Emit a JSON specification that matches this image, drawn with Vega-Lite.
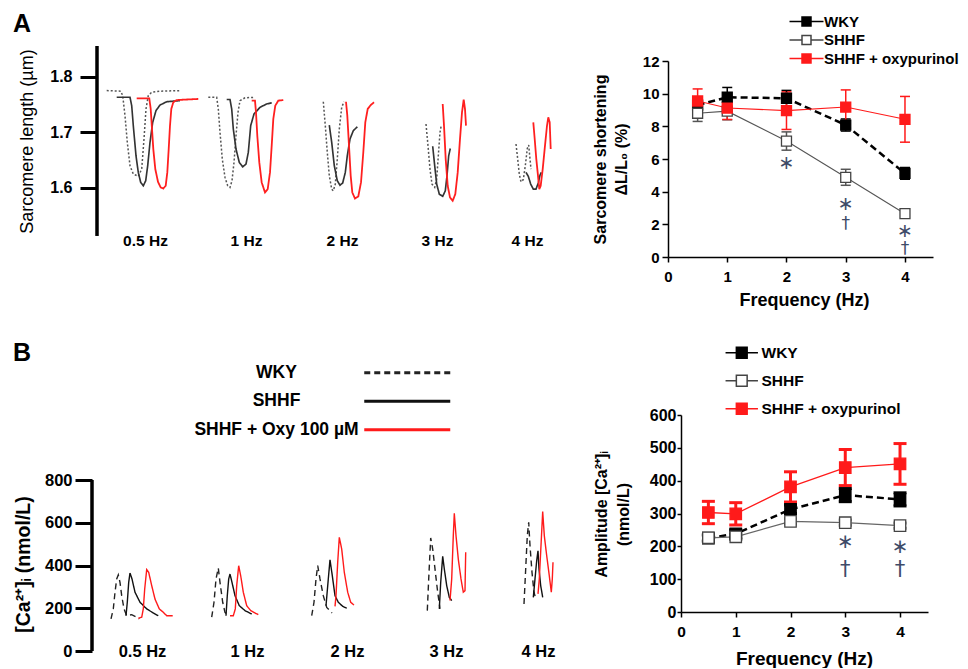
{
"$schema": "https://vega.github.io/schema/vega-lite/v6.json",
"background": "white",
"padding": {"left": 13, "top": 12, "right": 0, "bottom": 0},
"bounds": "flush",
"spacing": 354,
"datasets": {
"sl": [
{"f":"0.5","s":"WKY","t":14.7,"v":1.775},{"f":"0.5","s":"WKY","t":28.7,"v":1.774},{"f":"0.5","s":"WKY","t":30.7,"v":1.766},{"f":"0.5","s":"WKY","t":33,"v":1.730},{"f":"0.5","s":"WKY","t":35.3,"v":1.682},{"f":"0.5","s":"WKY","t":38,"v":1.640},{"f":"0.5","s":"WKY","t":41.3,"v":1.625},{"f":"0.5","s":"WKY","t":46.3,"v":1.621},{"f":"0.5","s":"WKY","t":49.7,"v":1.634},{"f":"0.5","s":"WKY","t":52,"v":1.688},{"f":"0.5","s":"WKY","t":54,"v":1.742},{"f":"0.5","s":"WKY","t":56.3,"v":1.766},{"f":"0.5","s":"WKY","t":59.7,"v":1.772},{"f":"0.5","s":"WKY","t":68,"v":1.774},{"f":"0.5","s":"WKY","t":88,"v":1.775},
{"f":"0.5","s":"SHHF","t":24.7,"v":1.763},{"f":"0.5","s":"SHHF","t":38,"v":1.763},{"f":"0.5","s":"SHHF","t":39.7,"v":1.748},{"f":"0.5","s":"SHHF","t":41.3,"v":1.712},{"f":"0.5","s":"SHHF","t":44,"v":1.658},{"f":"0.5","s":"SHHF","t":46.3,"v":1.628},{"f":"0.5","s":"SHHF","t":48.7,"v":1.610},{"f":"0.5","s":"SHHF","t":51.3,"v":1.604},{"f":"0.5","s":"SHHF","t":53.7,"v":1.613},{"f":"0.5","s":"SHHF","t":55.7,"v":1.640},{"f":"0.5","s":"SHHF","t":58,"v":1.682},{"f":"0.5","s":"SHHF","t":60.7,"v":1.718},{"f":"0.5","s":"SHHF","t":64,"v":1.739},{"f":"0.5","s":"SHHF","t":68,"v":1.749},{"f":"0.5","s":"SHHF","t":74.7,"v":1.755},{"f":"0.5","s":"SHHF","t":88,"v":1.757},
{"f":"0.5","s":"SHHF + oxypurinol","t":44.7,"v":1.761},{"f":"0.5","s":"SHHF + oxypurinol","t":57.3,"v":1.761},{"f":"0.5","s":"SHHF + oxypurinol","t":58.7,"v":1.742},{"f":"0.5","s":"SHHF + oxypurinol","t":60,"v":1.706},{"f":"0.5","s":"SHHF + oxypurinol","t":61.3,"v":1.670},{"f":"0.5","s":"SHHF + oxypurinol","t":63.3,"v":1.634},{"f":"0.5","s":"SHHF + oxypurinol","t":66,"v":1.611},{"f":"0.5","s":"SHHF + oxypurinol","t":68.7,"v":1.601},{"f":"0.5","s":"SHHF + oxypurinol","t":71.3,"v":1.599},{"f":"0.5","s":"SHHF + oxypurinol","t":73.7,"v":1.604},{"f":"0.5","s":"SHHF + oxypurinol","t":75.3,"v":1.628},{"f":"0.5","s":"SHHF + oxypurinol","t":76.7,"v":1.670},{"f":"0.5","s":"SHHF + oxypurinol","t":78,"v":1.712},{"f":"0.5","s":"SHHF + oxypurinol","t":79.3,"v":1.742},{"f":"0.5","s":"SHHF + oxypurinol","t":81.3,"v":1.754},{"f":"0.5","s":"SHHF + oxypurinol","t":84.7,"v":1.758},{"f":"0.5","s":"SHHF + oxypurinol","t":94.7,"v":1.759},{"f":"0.5","s":"SHHF + oxypurinol","t":106.3,"v":1.760},
{"f":"1","s":"WKY","t":116.3,"v":1.763},{"f":"1","s":"WKY","t":124.7,"v":1.763},{"f":"1","s":"WKY","t":126.3,"v":1.742},{"f":"1","s":"WKY","t":128,"v":1.700},{"f":"1","s":"WKY","t":130.3,"v":1.652},{"f":"1","s":"WKY","t":133,"v":1.619},{"f":"1","s":"WKY","t":135.7,"v":1.604},{"f":"1","s":"WKY","t":138,"v":1.601},{"f":"1","s":"WKY","t":140,"v":1.613},{"f":"1","s":"WKY","t":142,"v":1.646},{"f":"1","s":"WKY","t":144,"v":1.694},{"f":"1","s":"WKY","t":146,"v":1.736},{"f":"1","s":"WKY","t":148,"v":1.757},{"f":"1","s":"WKY","t":153,"v":1.762},{"f":"1","s":"WKY","t":163,"v":1.763},
{"f":"1","s":"SHHF","t":134.7,"v":1.759},{"f":"1","s":"SHHF","t":138,"v":1.759},{"f":"1","s":"SHHF","t":139.7,"v":1.742},{"f":"1","s":"SHHF","t":141.3,"v":1.706},{"f":"1","s":"SHHF","t":144,"v":1.670},{"f":"1","s":"SHHF","t":147.3,"v":1.646},{"f":"1","s":"SHHF","t":150.7,"v":1.638},{"f":"1","s":"SHHF","t":154,"v":1.643},{"f":"1","s":"SHHF","t":156.3,"v":1.664},{"f":"1","s":"SHHF","t":158.7,"v":1.712},{"f":"1","s":"SHHF","t":162,"v":1.733},{"f":"1","s":"SHHF","t":168,"v":1.745},{"f":"1","s":"SHHF","t":174.7,"v":1.751},{"f":"1","s":"SHHF","t":179.7,"v":1.753},
{"f":"1","s":"SHHF + oxypurinol","t":159.7,"v":1.757},{"f":"1","s":"SHHF + oxypurinol","t":163,"v":1.757},{"f":"1","s":"SHHF + oxypurinol","t":164,"v":1.736},{"f":"1","s":"SHHF + oxypurinol","t":165.3,"v":1.694},{"f":"1","s":"SHHF + oxypurinol","t":167.3,"v":1.646},{"f":"1","s":"SHHF + oxypurinol","t":169.7,"v":1.610},{"f":"1","s":"SHHF + oxypurinol","t":173,"v":1.592},{"f":"1","s":"SHHF + oxypurinol","t":175.7,"v":1.598},{"f":"1","s":"SHHF + oxypurinol","t":178,"v":1.628},{"f":"1","s":"SHHF + oxypurinol","t":179.7,"v":1.676},{"f":"1","s":"SHHF + oxypurinol","t":181.3,"v":1.724},{"f":"1","s":"SHHF + oxypurinol","t":183.3,"v":1.748},{"f":"1","s":"SHHF + oxypurinol","t":186.3,"v":1.757},{"f":"1","s":"SHHF + oxypurinol","t":191.3,"v":1.758},
{"f":"2","s":"WKY","t":231.3,"v":1.755},{"f":"2","s":"WKY","t":233.3,"v":1.712},{"f":"2","s":"WKY","t":235.3,"v":1.664},{"f":"2","s":"WKY","t":237.3,"v":1.622},{"f":"2","s":"WKY","t":239.7,"v":1.598},{"f":"2","s":"WKY","t":241.3,"v":1.595},{"f":"2","s":"WKY","t":243.3,"v":1.607},{"f":"2","s":"WKY","t":245.3,"v":1.652},{"f":"2","s":"WKY","t":247.3,"v":1.706},{"f":"2","s":"WKY","t":249.7,"v":1.745},{"f":"2","s":"WKY","t":252,"v":1.755},
{"f":"2","s":"SHHF","t":237.3,"v":1.713},{"f":"2","s":"SHHF","t":239.7,"v":1.682},{"f":"2","s":"SHHF","t":242.3,"v":1.640},{"f":"2","s":"SHHF","t":245.3,"v":1.613},{"f":"2","s":"SHHF","t":248,"v":1.605},{"f":"2","s":"SHHF","t":250.7,"v":1.609},{"f":"2","s":"SHHF","t":253.3,"v":1.628},{"f":"2","s":"SHHF","t":255.3,"v":1.658},{"f":"2","s":"SHHF","t":258,"v":1.688},{"f":"2","s":"SHHF","t":261.3,"v":1.703},{"f":"2","s":"SHHF","t":265.3,"v":1.710},
{"f":"2","s":"SHHF + oxypurinol","t":254,"v":1.755},{"f":"2","s":"SHHF + oxypurinol","t":255.3,"v":1.730},{"f":"2","s":"SHHF + oxypurinol","t":257,"v":1.676},{"f":"2","s":"SHHF + oxypurinol","t":258.7,"v":1.622},{"f":"2","s":"SHHF + oxypurinol","t":260.3,"v":1.592},{"f":"2","s":"SHHF + oxypurinol","t":263,"v":1.581},{"f":"2","s":"SHHF + oxypurinol","t":266.3,"v":1.585},{"f":"2","s":"SHHF + oxypurinol","t":269,"v":1.610},{"f":"2","s":"SHHF + oxypurinol","t":271.3,"v":1.664},{"f":"2","s":"SHHF + oxypurinol","t":273.3,"v":1.718},{"f":"2","s":"SHHF + oxypurinol","t":275.7,"v":1.742},{"f":"2","s":"SHHF + oxypurinol","t":278.7,"v":1.749},{"f":"2","s":"SHHF + oxypurinol","t":282,"v":1.754},
{"f":"3","s":"WKY","t":334,"v":1.715},{"f":"3","s":"WKY","t":336,"v":1.676},{"f":"3","s":"WKY","t":338,"v":1.634},{"f":"3","s":"WKY","t":340,"v":1.607},{"f":"3","s":"WKY","t":342.7,"v":1.601},{"f":"3","s":"WKY","t":344.7,"v":1.616},{"f":"3","s":"WKY","t":346.3,"v":1.658},{"f":"3","s":"WKY","t":348,"v":1.700},{"f":"3","s":"WKY","t":349.3,"v":1.713},
{"f":"3","s":"SHHF","t":340.7,"v":1.675},{"f":"3","s":"SHHF","t":342.7,"v":1.640},{"f":"3","s":"SHHF","t":344.7,"v":1.607},{"f":"3","s":"SHHF","t":347.3,"v":1.589},{"f":"3","s":"SHHF","t":350.7,"v":1.585},{"f":"3","s":"SHHF","t":353.3,"v":1.595},{"f":"3","s":"SHHF","t":355,"v":1.622},{"f":"3","s":"SHHF","t":356.7,"v":1.658},{"f":"3","s":"SHHF","t":358.3,"v":1.671},
{"f":"3","s":"SHHF + oxypurinol","t":350.7,"v":1.751},{"f":"3","s":"SHHF + oxypurinol","t":352,"v":1.712},{"f":"3","s":"SHHF + oxypurinol","t":353.7,"v":1.652},{"f":"3","s":"SHHF + oxypurinol","t":355.7,"v":1.604},{"f":"3","s":"SHHF + oxypurinol","t":358,"v":1.583},{"f":"3","s":"SHHF + oxypurinol","t":360.7,"v":1.577},{"f":"3","s":"SHHF + oxypurinol","t":363.3,"v":1.589},{"f":"3","s":"SHHF + oxypurinol","t":365.7,"v":1.628},{"f":"3","s":"SHHF + oxypurinol","t":368,"v":1.688},{"f":"3","s":"SHHF + oxypurinol","t":370,"v":1.736},{"f":"3","s":"SHHF + oxypurinol","t":371.7,"v":1.759},{"f":"3","s":"SHHF + oxypurinol","t":373,"v":1.742},{"f":"3","s":"SHHF + oxypurinol","t":374,"v":1.712},
{"f":"4","s":"WKY","t":424,"v":1.679},{"f":"4","s":"WKY","t":425.7,"v":1.652},{"f":"4","s":"WKY","t":427.3,"v":1.625},{"f":"4","s":"WKY","t":429,"v":1.611},{"f":"4","s":"WKY","t":431.3,"v":1.615},{"f":"4","s":"WKY","t":433.3,"v":1.640},{"f":"4","s":"WKY","t":435.3,"v":1.671},{"f":"4","s":"WKY","t":436.7,"v":1.677},{"f":"4","s":"WKY","t":438,"v":1.652},{"f":"4","s":"WKY","t":439,"v":1.634},
{"f":"4","s":"SHHF","t":434,"v":1.628},{"f":"4","s":"SHHF","t":436.3,"v":1.621},{"f":"4","s":"SHHF","t":438.7,"v":1.607},{"f":"4","s":"SHHF","t":441.3,"v":1.598},{"f":"4","s":"SHHF","t":444,"v":1.598},{"f":"4","s":"SHHF","t":446.3,"v":1.609},{"f":"4","s":"SHHF","t":448,"v":1.623},{"f":"4","s":"SHHF","t":449.3,"v":1.628},
{"f":"4","s":"SHHF + oxypurinol","t":441.3,"v":1.718},{"f":"4","s":"SHHF + oxypurinol","t":442.7,"v":1.688},{"f":"4","s":"SHHF + oxypurinol","t":444.3,"v":1.652},{"f":"4","s":"SHHF + oxypurinol","t":446,"v":1.622},{"f":"4","s":"SHHF + oxypurinol","t":447.3,"v":1.598},{"f":"4","s":"SHHF + oxypurinol","t":448.7,"v":1.604},{"f":"4","s":"SHHF + oxypurinol","t":450.7,"v":1.634},{"f":"4","s":"SHHF + oxypurinol","t":453,"v":1.676},{"f":"4","s":"SHHF + oxypurinol","t":455,"v":1.712},{"f":"4","s":"SHHF + oxypurinol","t":456.3,"v":1.727},{"f":"4","s":"SHHF + oxypurinol","t":457.7,"v":1.718},{"f":"4","s":"SHHF + oxypurinol","t":458.7,"v":1.670}
],
"ca": [
{"f":"0.5","s":"WKY","t":19,"v":150},{"f":"0.5","s":"WKY","t":21.3,"v":197},{"f":"0.5","s":"WKY","t":23,"v":275},{"f":"0.5","s":"WKY","t":24.7,"v":337},{"f":"0.5","s":"WKY","t":26.3,"v":356},{"f":"0.5","s":"WKY","t":28,"v":321},{"f":"0.5","s":"WKY","t":29.7,"v":259},{"f":"0.5","s":"WKY","t":32,"v":197},{"f":"0.5","s":"WKY","t":34.7,"v":165},{"f":"0.5","s":"WKY","t":39.7,"v":170},{"f":"0.5","s":"WKY","t":44.7,"v":158},{"f":"0.5","s":"WKY","t":47.3,"v":150},
{"f":"0.5","s":"SHHF","t":34,"v":165},{"f":"0.5","s":"SHHF","t":35.3,"v":228},{"f":"0.5","s":"SHHF","t":36.7,"v":321},{"f":"0.5","s":"SHHF","t":38,"v":365},{"f":"0.5","s":"SHHF","t":40,"v":337},{"f":"0.5","s":"SHHF","t":43,"v":275},{"f":"0.5","s":"SHHF","t":48,"v":228},{"f":"0.5","s":"SHHF","t":54.7,"v":197},{"f":"0.5","s":"SHHF","t":61.3,"v":178},{"f":"0.5","s":"SHHF","t":66.3,"v":165},
{"f":"0.5","s":"SHHF + oxypurinol","t":46.3,"v":153},{"f":"0.5","s":"SHHF + oxypurinol","t":49.7,"v":158},{"f":"0.5","s":"SHHF + oxypurinol","t":51.3,"v":197},{"f":"0.5","s":"SHHF + oxypurinol","t":52.7,"v":290},{"f":"0.5","s":"SHHF + oxypurinol","t":54.7,"v":381},{"f":"0.5","s":"SHHF + oxypurinol","t":56.7,"v":368},{"f":"0.5","s":"SHHF + oxypurinol","t":59.7,"v":306},{"f":"0.5","s":"SHHF + oxypurinol","t":63,"v":243},{"f":"0.5","s":"SHHF + oxypurinol","t":67.3,"v":197},{"f":"0.5","s":"SHHF + oxypurinol","t":71.3,"v":181},{"f":"0.5","s":"SHHF + oxypurinol","t":74.7,"v":165},{"f":"0.5","s":"SHHF + oxypurinol","t":80.7,"v":165},
{"f":"1","s":"WKY","t":119.7,"v":158},{"f":"1","s":"WKY","t":122,"v":228},{"f":"1","s":"WKY","t":124,"v":337},{"f":"1","s":"WKY","t":126.3,"v":388},{"f":"1","s":"WKY","t":128,"v":321},{"f":"1","s":"WKY","t":130.7,"v":228},{"f":"1","s":"WKY","t":133,"v":181},{"f":"1","s":"WKY","t":136.3,"v":165},
{"f":"1","s":"SHHF","t":134,"v":165},{"f":"1","s":"SHHF","t":135.3,"v":259},{"f":"1","s":"SHHF","t":136.7,"v":337},{"f":"1","s":"SHHF","t":138,"v":360},{"f":"1","s":"SHHF","t":140,"v":321},{"f":"1","s":"SHHF","t":143,"v":259},{"f":"1","s":"SHHF","t":147.3,"v":212},{"f":"1","s":"SHHF","t":153,"v":189},{"f":"1","s":"SHHF","t":159.7,"v":173},
{"f":"1","s":"SHHF + oxypurinol","t":138,"v":165},{"f":"1","s":"SHHF + oxypurinol","t":141.3,"v":165},{"f":"1","s":"SHHF + oxypurinol","t":143.3,"v":197},{"f":"1","s":"SHHF + oxypurinol","t":144.7,"v":306},{"f":"1","s":"SHHF + oxypurinol","t":146.7,"v":399},{"f":"1","s":"SHHF + oxypurinol","t":148.7,"v":352},{"f":"1","s":"SHHF + oxypurinol","t":151.3,"v":275},{"f":"1","s":"SHHF + oxypurinol","t":154.7,"v":212},{"f":"1","s":"SHHF + oxypurinol","t":158.7,"v":189},{"f":"1","s":"SHHF + oxypurinol","t":163,"v":178},{"f":"1","s":"SHHF + oxypurinol","t":166.3,"v":170},
{"f":"2","s":"WKY","t":219.7,"v":165},{"f":"2","s":"WKY","t":222,"v":228},{"f":"2","s":"WKY","t":224,"v":337},{"f":"2","s":"WKY","t":225.7,"v":399},{"f":"2","s":"WKY","t":228,"v":337},{"f":"2","s":"WKY","t":231.3,"v":259},{"f":"2","s":"WKY","t":234.7,"v":204},{"f":"2","s":"WKY","t":238,"v":189},{"f":"2","s":"WKY","t":240,"v":178},
{"f":"2","s":"SHHF","t":234,"v":212},{"f":"2","s":"SHHF","t":236.3,"v":337},{"f":"2","s":"SHHF","t":238,"v":427},{"f":"2","s":"SHHF","t":240.3,"v":352},{"f":"2","s":"SHHF","t":243,"v":259},{"f":"2","s":"SHHF","t":246.3,"v":228},{"f":"2","s":"SHHF","t":250.7,"v":209},{"f":"2","s":"SHHF","t":254.7,"v":200},
{"f":"2","s":"SHHF + oxypurinol","t":243,"v":209},{"f":"2","s":"SHHF + oxypurinol","t":244,"v":259},{"f":"2","s":"SHHF + oxypurinol","t":245.7,"v":415},{"f":"2","s":"SHHF + oxypurinol","t":247.3,"v":532},{"f":"2","s":"SHHF + oxypurinol","t":249.7,"v":477},{"f":"2","s":"SHHF + oxypurinol","t":252.3,"v":368},{"f":"2","s":"SHHF + oxypurinol","t":255.7,"v":275},{"f":"2","s":"SHHF + oxypurinol","t":258.7,"v":228},{"f":"2","s":"SHHF + oxypurinol","t":262,"v":215},
{"f":"3","s":"WKY","t":335.3,"v":189},{"f":"3","s":"WKY","t":336.7,"v":337},{"f":"3","s":"WKY","t":338.7,"v":529},{"f":"3","s":"WKY","t":340.7,"v":477},{"f":"3","s":"WKY","t":343,"v":384},{"f":"3","s":"WKY","t":345.3,"v":290},{"f":"3","s":"WKY","t":348,"v":197},
{"f":"3","s":"SHHF","t":347.3,"v":197},{"f":"3","s":"SHHF","t":348.7,"v":321},{"f":"3","s":"SHHF","t":350.7,"v":443},{"f":"3","s":"SHHF","t":352.3,"v":384},{"f":"3","s":"SHHF","t":354.7,"v":306},{"f":"3","s":"SHHF","t":357.3,"v":251},{"f":"3","s":"SHHF","t":359.7,"v":236},
{"f":"3","s":"SHHF + oxypurinol","t":358,"v":236},{"f":"3","s":"SHHF + oxypurinol","t":359.7,"v":337},{"f":"3","s":"SHHF + oxypurinol","t":361.3,"v":540},{"f":"3","s":"SHHF + oxypurinol","t":362.3,"v":644},{"f":"3","s":"SHHF + oxypurinol","t":364,"v":540},{"f":"3","s":"SHHF + oxypurinol","t":366.3,"v":430},{"f":"3","s":"SHHF + oxypurinol","t":369,"v":337},{"f":"3","s":"SHHF + oxypurinol","t":371.3,"v":275},{"f":"3","s":"SHHF + oxypurinol","t":373,"v":282},{"f":"3","s":"SHHF + oxypurinol","t":373.7,"v":462},
{"f":"4","s":"WKY","t":432,"v":220},{"f":"4","s":"WKY","t":433.7,"v":384},{"f":"4","s":"WKY","t":435.3,"v":540},{"f":"4","s":"WKY","t":436.7,"v":602},{"f":"4","s":"WKY","t":438,"v":493},{"f":"4","s":"WKY","t":440,"v":368},{"f":"4","s":"WKY","t":442,"v":275},{"f":"4","s":"WKY","t":444,"v":240},
{"f":"4","s":"SHHF","t":441.3,"v":251},{"f":"4","s":"SHHF","t":443,"v":337},{"f":"4","s":"SHHF","t":444.7,"v":423},{"f":"4","s":"SHHF","t":446,"v":469},{"f":"4","s":"SHHF","t":447,"v":384},{"f":"4","s":"SHHF","t":448.7,"v":306},{"f":"4","s":"SHHF","t":450.7,"v":251},
{"f":"4","s":"SHHF + oxypurinol","t":446,"v":267},{"f":"4","s":"SHHF + oxypurinol","t":447.3,"v":337},{"f":"4","s":"SHHF + oxypurinol","t":449,"v":493},{"f":"4","s":"SHHF + oxypurinol","t":450.7,"v":652},{"f":"4","s":"SHHF + oxypurinol","t":452.3,"v":540},{"f":"4","s":"SHHF + oxypurinol","t":454.7,"v":446},{"f":"4","s":"SHHF + oxypurinol","t":457.3,"v":352},{"f":"4","s":"SHHF + oxypurinol","t":459.3,"v":275},{"f":"4","s":"SHHF + oxypurinol","t":460.3,"v":337},{"f":"4","s":"SHHF + oxypurinol","t":461,"v":415}
],
"sarc": [
{"freq":0.5,"series":"WKY","y":9.3,"sem":0.4},{"freq":1,"series":"WKY","y":9.78,"sem":0.6},{"freq":2,"series":"WKY","y":9.72,"sem":0.48},{"freq":3,"series":"WKY","y":8.08,"sem":0.37},{"freq":4,"series":"WKY","y":5.12,"sem":0.36},
{"freq":0.5,"series":"SHHF","y":8.8,"sem":0.5},{"freq":1,"series":"SHHF","y":8.93,"sem":0.53},{"freq":2,"series":"SHHF","y":7.1,"sem":0.56},{"freq":3,"series":"SHHF","y":4.88,"sem":0.49},{"freq":4,"series":"SHHF","y":2.65,"sem":0.15},
{"freq":0.5,"series":"SHHF + oxypurinol","y":9.55,"sem":0.74},{"freq":1,"series":"SHHF + oxypurinol","y":9.12,"sem":0.7},{"freq":2,"series":"SHHF + oxypurinol","y":8.96,"sem":1.15},{"freq":3,"series":"SHHF + oxypurinol","y":9.18,"sem":1.05},{"freq":4,"series":"SHHF + oxypurinol","y":8.43,"sem":1.4}
],
"amp": [
{"freq":0.5,"series":"WKY","y":225,"sem":10},{"freq":1,"series":"WKY","y":238,"sem":12},{"freq":2,"series":"WKY","y":313,"sem":13},{"freq":3,"series":"WKY","y":356,"sem":20},{"freq":4,"series":"WKY","y":343,"sem":20},
{"freq":0.5,"series":"SHHF","y":226,"sem":8},{"freq":1,"series":"SHHF","y":229,"sem":8},{"freq":2,"series":"SHHF","y":276,"sem":8},{"freq":3,"series":"SHHF","y":272,"sem":8},{"freq":4,"series":"SHHF","y":263,"sem":8},
{"freq":0.5,"series":"SHHF + oxypurinol","y":303,"sem":34},{"freq":1,"series":"SHHF + oxypurinol","y":299,"sem":34},{"freq":2,"series":"SHHF + oxypurinol","y":381,"sem":46},{"freq":3,"series":"SHHF + oxypurinol","y":440,"sem":55},{"freq":4,"series":"SHHF + oxypurinol","y":451,"sem":62}
],
"sigA": [
{"freq":2,"y":5.73,"m":"∗"},{"freq":3,"y":3.24,"m":"∗"},{"freq":3,"y":1.99,"m":"†"},{"freq":4,"y":1.6,"m":"∗"},{"freq":4,"y":0.5,"m":"†"}
],
"sigB": [
{"freq":3,"y":214,"m":"∗"},{"freq":3,"y":127,"m":"†"},{"freq":4,"y":197,"m":"∗"},{"freq":4,"y":128,"m":"†"}
]
},
"vconcat": [
{
"bounds": "flush",
"spacing": 60,
"hconcat": [
{
"width": 516, "height": 196,
"layer": [
{"data": {"name": "sl"}, "mark": {"type": "line"},
 "encoding": {
  "x": {"field": "t", "type": "quantitative", "scale": {"domain": [0, 516], "nice": false, "zero": false},
   "axis": {"values": [53, 154, 250, 345, 435], "labelExpr": "datum.value < 100 ? '0.5 Hz' : datum.value < 200 ? '1 Hz' : datum.value < 300 ? '2 Hz' : datum.value < 400 ? '3 Hz' : '4 Hz'", "domain": false, "ticks": false, "labelPadding": -17, "labelBaseline": "middle", "labelFontSize": 15.5, "labelFontWeight": "bold", "title": null, "labelOverlap": false, "labelFlush": false, "labelBound": false}},
  "y": {"field": "v", "type": "quantitative", "scale": {"domain": [1.476, 1.8282], "nice": false, "zero": false},
   "axis": {"values": [1.6, 1.7, 1.8], "format": ".1f", "domain": false, "tickSize": 17, "tickWidth": 3, "labelPadding": 8, "labelFontSize": 16, "labelFontWeight": "bold", "offset": -5, "title": "Sarcomere length (µm)", "titleFontSize": 18, "titleFontWeight": "normal", "titleAngle": -90, "titleX": -70, "titleY": 80, "titleAlign": "center", "titleBaseline": "middle"}},
  "color": {"field": "s", "type": "nominal", "scale": {"domain": ["WKY", "SHHF", "SHHF + oxypurinol"], "range": ["#555555", "#333333", "#ff1f1f"]}, "legend": null},
  "strokeDash": {"field": "s", "type": "nominal", "scale": {"domain": ["WKY", "SHHF", "SHHF + oxypurinol"], "range": [[2, 2], [1, 0], [1, 0]]}, "legend": null},
  "strokeWidth": {"field": "s", "type": "nominal", "scale": {"domain": ["WKY", "SHHF", "SHHF + oxypurinol"], "range": [1.5, 1.8]}, "legend": null},
  "detail": {"field": "f", "type": "nominal"}
 }},
{"data": {"values": [{}]}, "mark": {"type": "rule", "strokeWidth": 3.5, "color": "#000000"},
 "encoding": {"x": {"datum": 5}, "y": {"datum": 1.5138}, "y2": {"datum": 1.8552}}},
{"data": {"values": [{"p": "A"}]}, "mark": {"type": "text", "fontSize": 25, "fontWeight": "bold", "align": "left", "baseline": "alphabetic", "color": "#000000"},
 "encoding": {"x": {"datum": -79}, "y": {"datum": 1.8803}, "text": {"field": "p"}}}
]
},
{
"width": 265, "height": 196,
"data": {"name": "sarc"},
"encoding": {
 "x": {"field": "freq", "type": "quantitative", "scale": {"domain": [0, 4.473], "nice": false},
  "axis": {"values": [0, 1, 2, 3, 4], "tickSize": 5, "tickWidth": 1.5, "domainWidth": 1.5, "labelPadding": 7, "labelFontSize": 15, "labelFontWeight": "bold", "labelFlush": false, "title": "Frequency (Hz)", "titleFontSize": 18, "titleFontWeight": "bold", "titleX": 136, "titleY": 43, "titleAlign": "center", "titleBaseline": "middle"}},
 "y": {"field": "y", "type": "quantitative", "scale": {"domain": [0, 12], "nice": false},
  "axis": {"values": [0, 2, 4, 6, 8, 10, 12], "tickSize": 6, "tickWidth": 1.5, "domainWidth": 1.5, "labelPadding": 3, "labelFontSize": 15, "labelFontWeight": "bold", "title": ["Sarcomere shortening", "ΔL/L₀ (%)"], "titleFontSize": 16, "titleFontWeight": "bold", "titleLineHeight": 21, "titleAngle": -90, "titleX": -68, "titleY": 98, "titleAlign": "center", "titleBaseline": "middle"}}
},
"layer": [
{"transform": [{"filter": "datum.series === 'WKY'"}], "mark": {"type": "line", "strokeDash": [7, 4], "strokeWidth": 2.5},
 "encoding": {"color": {"field": "series", "type": "nominal", "scale": {"domain": ["SHHF + oxypurinol", "SHHF", "WKY"], "range": ["#ff1a1a", "#555555", "#000000"]}, "legend": null}}},
{"transform": [{"filter": "datum.series !== 'WKY'"}], "mark": {"type": "line", "strokeWidth": 1.1},
 "encoding": {"color": {"field": "series", "type": "nominal", "legend": null}}},
{"mark": {"type": "errorbar", "ticks": true, "size": 10, "thickness": 1.5, "opacity": 1},
 "encoding": {"yError": {"field": "sem"}, "color": {"field": "series", "type": "nominal", "legend": null}}},
{"mark": {"type": "point", "shape": "square", "size": 100, "filled": true, "opacity": 1, "strokeWidth": 1.3},
 "encoding": {
  "fill": {"field": "series", "type": "nominal", "scale": {"domain": ["WKY", "SHHF", "SHHF + oxypurinol"], "range": ["#000000", "#ffffff", "#ff1a1a"]},
   "legend": {"title": null, "orient": "none", "legendX": 131, "legendY": -47, "padding": 0, "symbolType": "M-3.4,0H-0.9M0.9,0H3.4M-0.9,-0.9H0.9V0.9H-0.9Z", "symbolSize": 100, "symbolStrokeWidth": 1.5, "labelFontSize": 15, "labelFontWeight": "bold", "labelColor": "#000000", "labelOffset": 10, "labelLimit": 400, "rowPadding": 2.5}},
  "stroke": {"field": "series", "type": "nominal", "scale": {"domain": ["WKY", "SHHF", "SHHF + oxypurinol"], "range": ["#000000", "#444444", "#ff1a1a"]},
   "legend": {"title": null, "orient": "none", "legendX": 131, "legendY": -47, "padding": 0, "symbolType": "M-3.4,0H-0.9M0.9,0H3.4M-0.9,-0.9H0.9V0.9H-0.9Z", "symbolSize": 100, "symbolStrokeWidth": 1.5, "labelFontSize": 15, "labelFontWeight": "bold", "labelColor": "#000000", "labelOffset": 10, "labelLimit": 400, "rowPadding": 2.5}}
 }},
{"data": {"name": "sigA"}, "mark": {"type": "text", "baseline": "middle", "align": "center", "font": "DejaVu Sans", "color": "#3e4b68"},
 "encoding": {"text": {"field": "m"}, "size": {"field": "m", "type": "ordinal", "scale": {"domain": ["∗", "†"], "range": [19, 17]}, "legend": null}}}
]
}
],
"resolve": {"scale": {"color": "independent", "fill": "independent", "stroke": "independent", "strokeDash": "independent", "strokeWidth": "independent", "size": "independent"}}
},
{
"bounds": "flush",
"spacing": 60,
"hconcat": [
{
"width": 529, "height": 236,
"layer": [
{"data": {"name": "ca"}, "mark": {"type": "line", "strokeWidth": 1.4},
 "encoding": {
  "x": {"field": "t", "type": "quantitative", "scale": {"domain": [0, 529], "nice": false, "zero": false},
   "axis": {"values": [50, 155, 255, 354, 446], "labelExpr": "datum.value < 100 ? '0.5 Hz' : datum.value < 200 ? '1 Hz' : datum.value < 300 ? '2 Hz' : datum.value < 400 ? '3 Hz' : '4 Hz'", "domain": false, "ticks": false, "labelPadding": 0, "labelBaseline": "middle", "labelFontSize": 16.5, "labelFontWeight": "bold", "title": null, "labelOverlap": false, "labelFlush": false, "labelBound": false}},
  "y": {"field": "v", "type": "quantitative", "scale": {"domain": [0, 1104.1], "nice": false, "zero": false},
   "axis": {"values": [0, 200, 400, 600, 800], "domain": false, "tickSize": 17, "tickWidth": 3, "labelPadding": 3, "labelFontSize": 16.5, "labelFontWeight": "bold", "title": "[Ca²⁺]ᵢ (nmol/L)", "titleFontSize": 19.5, "titleFontWeight": "bold", "titleAngle": -90, "titleX": -69, "titleY": 149, "titleAlign": "center", "titleBaseline": "middle"}},
  "color": {"field": "s", "type": "nominal", "scale": {"domain": ["WKY", "SHHF", "SHHF + oxypurinol"], "range": ["#222222", "#111111", "#ff1a1a"]},
   "legend": {"title": null, "orient": "none", "legendX": 306.5, "legendY": -51, "padding": 0, "symbolType": "M-8.6,0H8.6", "symbolSize": 100, "symbolStrokeWidth": 3, "labelAlign": "center", "labelOffset": -139.5, "labelFontSize": 17.5, "labelFontWeight": "bold", "labelColor": "#000000", "labelLimit": 400, "rowPadding": 9.5, "labelExpr": "datum.label === 'SHHF + oxypurinol' ? 'SHHF + Oxy 100 µM' : datum.label"}},
  "strokeDash": {"field": "s", "type": "nominal", "scale": {"domain": ["WKY", "SHHF", "SHHF + oxypurinol"], "range": [[6, 4], [1, 0], [1, 0]]},
   "legend": {"title": null, "orient": "none", "legendX": 306.5, "legendY": -51, "padding": 0, "symbolType": "M-8.6,0H8.6", "symbolSize": 100, "symbolStrokeWidth": 3, "labelAlign": "center", "labelOffset": -139.5, "labelFontSize": 17.5, "labelFontWeight": "bold", "labelColor": "#000000", "labelLimit": 400, "rowPadding": 9.5, "labelExpr": "datum.label === 'SHHF + oxypurinol' ? 'SHHF + Oxy 100 µM' : datum.label"}},
  "detail": {"field": "f", "type": "nominal"}
 }},
{"data": {"values": [{}]}, "mark": {"type": "rule", "strokeWidth": 3.5, "color": "#000000"},
 "encoding": {"x": {"datum": 0}, "y": {"datum": 0}, "y2": {"datum": 800}}},
{"data": {"values": [{"p": "B"}]}, "mark": {"type": "text", "fontSize": 25, "fontWeight": "bold", "align": "left", "baseline": "alphabetic", "color": "#000000"},
 "encoding": {"x": {"datum": -79}, "y": {"datum": 1356.7}, "text": {"field": "p"}}}
]
},
{
"width": 247, "height": 197,
"data": {"name": "amp"},
"encoding": {
 "x": {"field": "freq", "type": "quantitative", "scale": {"domain": [0, 4.511], "nice": false},
  "axis": {"values": [0, 1, 2, 3, 4], "tickSize": 5, "tickWidth": 1.5, "domainWidth": 1.5, "labelPadding": 7.5, "labelFontSize": 15.5, "labelFontWeight": "bold", "labelFlush": false, "title": "Frequency (Hz)", "titleFontSize": 19, "titleFontWeight": "bold", "titleX": 123, "titleY": 46, "titleAlign": "center", "titleBaseline": "middle"}},
 "y": {"field": "y", "type": "quantitative", "scale": {"domain": [0, 600], "nice": false},
  "axis": {"values": [0, 100, 200, 300, 400, 500, 600], "tickSize": 4, "tickWidth": 1.5, "domainWidth": 1.5, "labelPadding": 1, "labelFontSize": 16, "labelFontWeight": "bold", "title": ["Amplitude [Ca²⁺]ᵢ", "(nmol/L)"], "titleFontSize": 16, "titleFontWeight": "bold", "titleLineHeight": 22, "titleAngle": -90, "titleX": -80, "titleY": 99, "titleAlign": "center", "titleBaseline": "middle"}}
},
"layer": [
{"transform": [{"filter": "datum.series === 'WKY'"}], "mark": {"type": "line", "strokeDash": [7, 4], "strokeWidth": 2.5},
 "encoding": {"color": {"field": "series", "type": "nominal", "scale": {"domain": ["SHHF + oxypurinol", "SHHF", "WKY"], "range": ["#ff1a1a", "#666666", "#000000"]}, "legend": null}}},
{"transform": [{"filter": "datum.series !== 'WKY'"}], "mark": {"type": "line", "strokeWidth": 1.3},
 "encoding": {"color": {"field": "series", "type": "nominal", "legend": null}}},
{"mark": {"type": "errorbar", "ticks": true, "size": 13, "thickness": 3, "opacity": 1},
 "encoding": {"yError": {"field": "sem"}, "color": {"field": "series", "type": "nominal", "legend": null}}},
{"mark": {"type": "point", "shape": "square", "size": 130, "filled": true, "opacity": 1, "strokeWidth": 1.3},
 "encoding": {
  "fill": {"field": "series", "type": "nominal", "scale": {"domain": ["WKY", "SHHF", "SHHF + oxypurinol"], "range": ["#000000", "#ffffff", "#ff1a1a"]},
   "legend": {"title": null, "orient": "none", "legendX": 53, "legendY": -70, "padding": 0, "symbolType": "M-2.7,0H-0.9M0.9,0H2.7M-0.9,-0.9H0.9V0.9H-0.9Z", "symbolSize": 144, "symbolStrokeWidth": 1.5, "labelFontSize": 15.5, "labelFontWeight": "bold", "labelColor": "#000000", "labelOffset": 12, "labelLimit": 400, "rowPadding": 10}},
  "stroke": {"field": "series", "type": "nominal", "scale": {"domain": ["WKY", "SHHF", "SHHF + oxypurinol"], "range": ["#000000", "#444444", "#ff1a1a"]},
   "legend": {"title": null, "orient": "none", "legendX": 53, "legendY": -70, "padding": 0, "symbolType": "M-2.7,0H-0.9M0.9,0H2.7M-0.9,-0.9H0.9V0.9H-0.9Z", "symbolSize": 144, "symbolStrokeWidth": 1.5, "labelFontSize": 15.5, "labelFontWeight": "bold", "labelColor": "#000000", "labelOffset": 12, "labelLimit": 400, "rowPadding": 10}}
 }},
{"data": {"name": "sigB"}, "mark": {"type": "text", "baseline": "middle", "align": "center", "font": "DejaVu Sans", "color": "#3e4b68"},
 "encoding": {"text": {"field": "m"}, "size": {"field": "m", "type": "ordinal", "scale": {"domain": ["∗", "†"], "range": [20, 21]}, "legend": null}}}
]
}
],
"resolve": {"scale": {"color": "independent", "fill": "independent", "stroke": "independent", "strokeDash": "independent", "strokeWidth": "independent", "size": "independent"}}
}
],
"resolve": {"scale": {"color": "independent", "fill": "independent", "stroke": "independent", "strokeDash": "independent", "strokeWidth": "independent", "size": "independent"}},
"config": {
 "font": "Liberation Sans",
 "view": {"stroke": null},
 "axis": {"labelFont": "Liberation Sans", "titleFont": "Liberation Sans", "labelColor": "#000000", "titleColor": "#000000", "tickColor": "#000000", "domainColor": "#000000", "grid": false},
 "legend": {"labelFont": "Liberation Sans", "labelColor": "#000000"}
}
}
